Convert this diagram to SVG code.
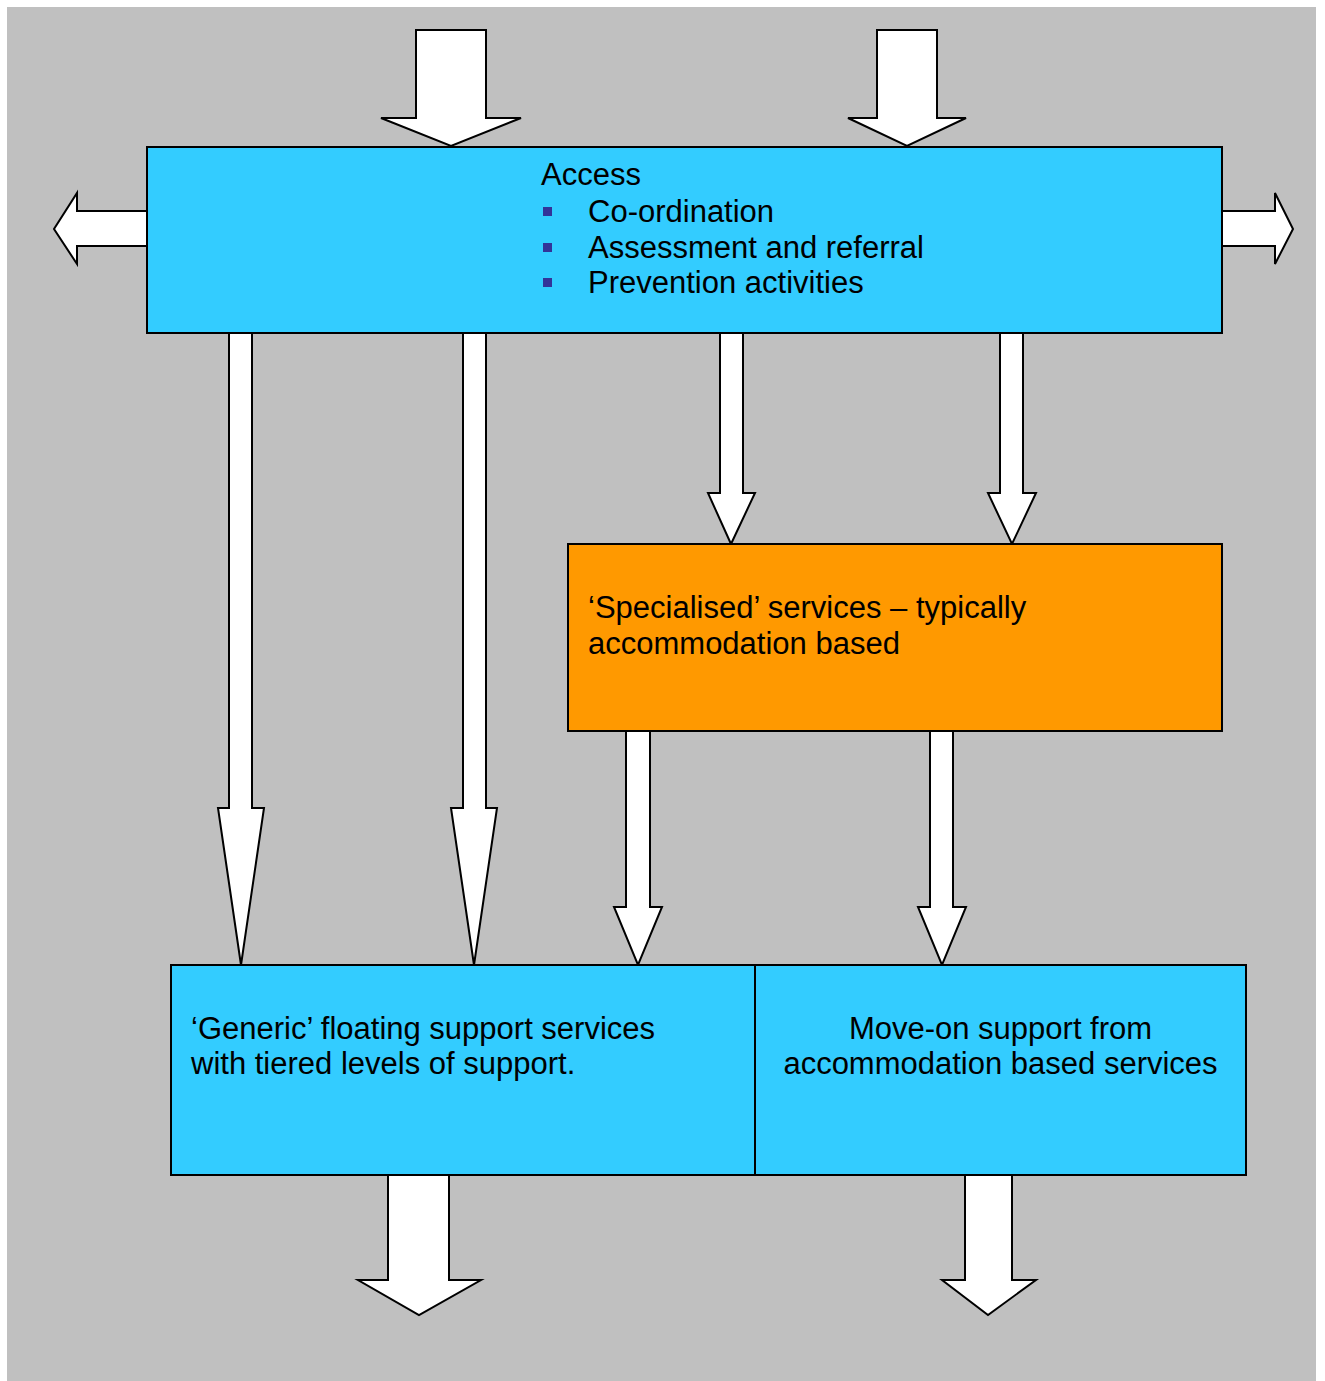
<svg xmlns="http://www.w3.org/2000/svg" width="1325" height="1381" viewBox="0 0 1325 1381">
<style>
.arrow{fill:#ffffff;stroke:#000000;stroke-width:2;stroke-linejoin:miter}
.box{stroke:#000000;stroke-width:2}
.blue{fill:#33ccff}
.orange{fill:#ff9900}
.t{font-family:"Liberation Sans",Arial,sans-serif;font-size:31px;fill:#000000}
.bullet{fill:#333399}
</style>
<rect x="0" y="0" width="1325" height="1381" fill="#ffffff"/>
<rect x="7" y="7" width="1309" height="1374" fill="#c0c0c0"/>
<g id="connectors">
<polygon class="arrow" points="416,30 416,118 381,118 451,146 521,118 486,118 486,30"/>
<polygon class="arrow" points="877,30 877,118 848,118 907,146 966,118 937,118 937,30"/>
<polygon class="arrow" points="147,211 77,211 77,193 54,229 77,264 77,246 147,246"/>
<polygon class="arrow" points="1222,211 1275,211 1275,193 1293,229 1275,264 1275,246 1222,246"/>
<polygon class="arrow" points="229,333 229,808 218,808 241,965 264,808 252,808 252,333"/>
<polygon class="arrow" points="463,333 463,808 451,808 474,965 497,808 486,808 486,333"/>
<polygon class="arrow" points="720,333 720,493 708,493 731,544 755,493 743,493 743,333"/>
<polygon class="arrow" points="1000,333 1000,493 988,493 1012,544 1036,493 1023,493 1023,333"/>
<polygon class="arrow" points="626,731 626,907 614,907 638,965 662,907 650,907 650,731"/>
<polygon class="arrow" points="930,731 930,907 918,907 942,965 966,907 953,907 953,731"/>
<polygon class="arrow" points="388,1175 388,1280 358,1280 419,1315 481,1280 449,1280 449,1175"/>
<polygon class="arrow" points="965,1175 965,1280 942,1280 988,1315 1036,1280 1012,1280 1012,1175"/>
</g>
<g id="access">
<rect class="box blue" x="147" y="147" width="1075" height="186"/>
<text class="t" x="541" y="185">Access</text>
<rect class="bullet" x="543" y="207" width="9" height="9"/>
<text class="t" x="588" y="222">Co-ordination</text>
<rect class="bullet" x="543" y="243" width="9" height="9"/>
<text class="t" x="588" y="258">Assessment and referral</text>
<rect class="bullet" x="543" y="278" width="9" height="9"/>
<text class="t" x="588" y="293">Prevention activities</text>
</g>
<g id="specialised">
<rect class="box orange" x="568" y="544" width="654" height="187"/>
<text class="t" x="588" y="618">‘Specialised’ services – typically</text>
<text class="t" x="588" y="654">accommodation based</text>
</g>
<g id="generic">
<rect class="box blue" x="171" y="965" width="584" height="210"/>
<text class="t" x="191" y="1039">‘Generic’ floating support services</text>
<text class="t" x="191" y="1074">with tiered levels of support.</text>
</g>
<g id="moveon">
<rect class="box blue" x="755" y="965" width="491" height="210"/>
<text class="t" x="1000.5" y="1039" text-anchor="middle">Move-on support from</text>
<text class="t" x="1000.5" y="1074" text-anchor="middle">accommodation based services</text>
</g>
</svg>
